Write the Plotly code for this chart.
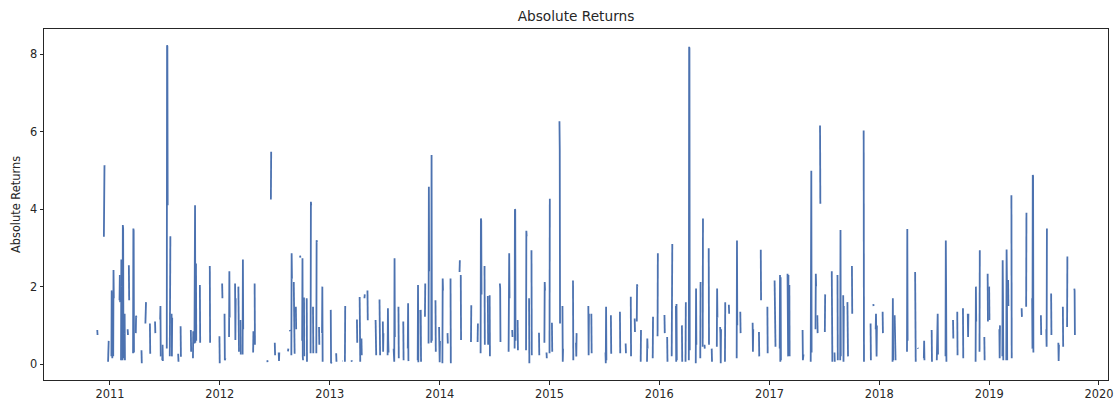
import pandas as pd
import plotly.graph_objects as go

# Start date of each contiguous run of daily observations (gaps between runs are missing data)
segment_starts = [
    "2010-11-20", "2010-12-12", "2010-12-26", "2011-01-06", "2011-01-12", "2011-02-02", "2011-02-07",
    "2011-02-12", "2011-02-18", "2011-03-01", "2011-03-05", "2011-03-19", "2011-03-28", "2011-04-16",
    "2011-04-29", "2011-05-14", "2011-05-31", "2011-06-17", "2011-06-24", "2011-07-09", "2011-07-19",
    "2011-07-25", "2011-08-16", "2011-08-24", "2011-09-27", "2011-10-04", "2011-10-09", "2011-10-14",
    "2011-10-27", "2011-11-29", "2011-12-31", "2012-01-09", "2012-01-17", "2012-02-01", "2012-02-21",
    "2012-03-03", "2012-03-10", "2012-03-17", "2012-04-21", "2012-04-26", "2012-06-07", "2012-06-19",
    "2012-07-02", "2012-07-15", "2012-08-15", "2012-08-21", "2012-08-26", "2012-09-03", "2012-09-10",
    "2012-09-24", "2012-10-01", "2012-10-07", "2012-10-16", "2012-10-29", "2012-11-06", "2012-11-17",
    "2012-11-26", "2012-12-06", "2013-01-04", "2013-01-22", "2013-02-12", "2013-02-20", "2013-03-14",
    "2013-04-01", "2013-04-10", "2013-04-16", "2013-04-26", "2013-05-06", "2013-06-02", "2013-06-15",
    "2013-06-26", "2013-07-12", "2013-08-01", "2013-08-17", "2013-09-02", "2013-09-17", "2013-10-20",
    "2013-10-30", "2013-11-13", "2013-11-25", "2013-12-04", "2013-12-18", "2013-12-30", "2014-01-10",
    "2014-01-27", "2014-02-06", "2014-03-08", "2014-03-12", "2014-04-15", "2014-05-07", "2014-05-17",
    "2014-05-30", "2014-06-10", "2014-06-16", "2014-07-20", "2014-08-18", "2014-08-30", "2014-09-07",
    "2014-09-17", "2014-10-15", "2014-10-25", "2014-11-02", "2014-11-27", "2014-12-15", "2014-12-22",
    "2015-01-01", "2015-01-09", "2015-02-03", "2015-02-13", "2015-03-20", "2015-03-30", "2015-05-10",
    "2015-05-20", "2015-07-06", "2015-07-24", "2015-08-23", "2015-09-11", "2015-09-28", "2015-10-11",
    "2015-10-18", "2015-10-31", "2015-11-21", "2015-12-10", "2015-12-26", "2016-01-18", "2016-01-27",
    "2016-02-11", "2016-02-25", "2016-03-16", "2016-03-28", "2016-04-08", "2016-05-01", "2016-05-16",
    "2016-05-24", "2016-05-30", "2016-06-13", "2016-06-23", "2016-07-10", "2016-07-21", "2016-08-06",
    "2016-08-19", "2016-09-14", "2016-09-26", "2016-11-06", "2016-11-27", "2016-12-03", "2016-12-25",
    "2017-01-18", "2017-02-04", "2017-03-02", "2017-03-08", "2017-04-21", "2017-05-18", "2017-06-03",
    "2017-06-09", "2017-06-18", "2017-07-04", "2017-07-27", "2017-08-05", "2017-08-15", "2017-08-24",
    "2017-09-03", "2017-09-17", "2017-10-02", "2017-11-10", "2017-12-03", "2017-12-12", "2017-12-20",
    "2018-01-12", "2018-02-14", "2018-02-21", "2018-04-03", "2018-04-30", "2018-05-09", "2018-05-29",
    "2018-06-24", "2018-07-11", "2018-08-09", "2018-09-03", "2018-09-17", "2018-10-06", "2018-10-22",
    "2018-11-17", "2018-11-30", "2018-12-16", "2018-12-27", "2019-01-01", "2019-02-04", "2019-02-14",
    "2019-02-27", "2019-03-05", "2019-03-16", "2019-04-19", "2019-05-04", "2019-05-24", "2019-06-22",
    "2019-07-10", "2019-07-26", "2019-08-19", "2019-09-03", "2019-09-17", "2019-10-11",
]

# Absolute return values of each run, one value per day
segment_values = [
    [0.88, 0.75], [3.29, 4.55, 5.13, 5.1], [0.06, 0.35, 0.6], [0.2, 1.9, 1.85, 0.15], [0.2, 2.43, 1.7],
    [1.65, 2.3, 1.6], [0.1, 2.7, 2.0], [0.1, 3.59, 3.5, 0.15], [0.8, 1.3, 0.1], [0.9, 0.75],
    [2.55, 1.65], [0.28, 3.5, 3.45, 0.3], [0.8, 1.25, 1.2], [0.36, 0.02], [1.05, 1.45, 1.6],
    [1.05, 0.27], [1.1, 0.8], [1.15, 1.5, 0.2], [0.1, 0.5, 0.08], [0.4, 8.23, 8.2, 4.1],
    [0.2, 3.29, 3.3], [1.3, 0.2, 1.2], [0.27, 0.06], [0.98, 0.19], [0.88, 0.32], [0.15, 0.85],
    [0.53, 4.05, 4.1, 0.55], [2.6, 0.6], [2.04, 0.55], [2.53, 0.55], [0.72, 0.02], [2.08, 1.7],
    [1.3, 0.1, 1.05, 0.15], [0.7, 2.4, 1.2], [2.08, 0.62, 1.7], [2.0, 1.2, 0.32], [1.14, 0.25],
    [0.25, 2.7, 0.9], [0.3, 0.85], [2.08, 0.5], [0.1, 0.05], [4.25, 5.48], [0.55, 0.23],
    [0.3, 0.08, 0.3], [0.33, 0.4], [0.88, 0.85], [0.23, 2.86, 2.2], [2.12, 0.5, 1.2, 0.27],
    [1.48, 0.9], [2.8, 2.75], [0.6, 2.73, 0.2, 0.1], [1.72, 0.2], [1.7, 0.06], [0.28, 4.19, 4.1],
    [1.48, 0.28], [0.28, 3.2, 3.15], [0.96, 0.5], [0.8, 2.0, 0.06], [1.4, 0.02, 1.3, 0.05],
    [0.28, 0.06], [0.08, 0.08], [0.06, 1.5], [0.1, 0.06], [1.15, 0.55], [1.73, 0.4, 0.06],
    [0.66, 0.23], [1.7, 1.8], [1.9, 1.13], [1.14, 0.5, 0.23], [1.67, 0.8, 0.23], [1.1, 0.32, 0.8],
    [0.23, 1.44, 0.6, 0.3], [0.4, 1.4, 0.06, 2.73, 0.7], [1.48, 0.15], [1.1, 0.1],
    [0.4, 1.57, 0.1, 0.08], [0.1, 2.04, 0.05, 1.4], [1.4, 0.06], [1.22, 2.08], [0.53, 4.58, 2.4],
    [0.55, 5.4, 0.6], [1.65, 0.32], [0.96, 0.3, 0.05, 0.6], [0.02, 2.21, 1.9], [0.8, 0.53],
    [2.21, 0.02], [2.38, 2.68], [2.3, 0.62], [0.57, 1.52], [0.57, 1.05], [0.28, 3.76, 3.7, 1.8],
    [2.53, 0.5], [1.76, 0.5], [1.78, 0.2], [2.08, 1.95, 0.57], [0.32, 2.5, 2.86, 1.7], [0.88, 0.7],
    [0.4, 4.0, 3.98, 0.6], [1.14, 0.36], [0.36, 3.44, 3.3], [1.7, 0.02], [2.94, 0.23], [0.81, 0.23],
    [0.55, 2.12, 1.9], [0.3, 0.15], [0.28, 4.27], [1.07, 0.32], [6.27, 5.55, 1.05], [1.5, 0.06, 0.4],
    [2.16, 0.1], [0.55, 0.2, 0.8], [1.5, 0.23, 1.3], [1.3, 0.28], [0.3, 0.02, 1.48, 0.1],
    [1.26, 0.27], [1.35, 0.28], [0.53, 0.28], [1.74, 0.2], [1.18, 0.83], [1.1, 2.06, 2.0],
    [0.06, 0.88], [0.06, 0.66, 0.4], [0.15, 1.22], [0.72, 2.86], [1.27, 0.8], [0.7, 0.06],
    [0.2, 2.6, 3.1], [1.5, 0.06, 1.55, 0.1], [1.0, 0.06], [0.06, 1.6], [0.1, 8.19, 8.15, 0.36],
    [0.02, 1.95, 0.5], [0.15, 2.12], [0.45, 3.76], [0.5, 0.4], [2.99, 0.5], [0.4, 0.06],
    [0.45, 1.95, 1.2], [0.96, 0.8, 0.02, 0.9], [0.06, 1.6], [1.53, 1.3], [0.15, 3.19, 1.0],
    [1.35, 0.8], [1.07, 0.32, 0.9], [0.83, 0.2], [2.95, 1.65], [1.48, 0.28], [2.16, 0.5, 1.76, 0.45],
    [0.4, 2.3, 0.06, 2.24, 0.1], [2.33, 0.3, 0.2, 2.3], [2.04, 0.2], [0.88, 0.1, 0.5, 0.25],
    [0.06, 2.85, 4.99, 0.3], [0.9, 2.33, 2.0], [1.26, 0.8], [6.16, 4.14], [0.83, 1.8],
    [2.4, 0.5, 0.06], [0.3, 0.06], [2.3, 0.1], [0.1, 3.46, 0.2], [1.78, 0.06, 1.5], [1.6, 0.23, 0.2],
    [2.53, 1.3], [6.03, 0.06], [1.05, 0.1], [1.55, 1.5], [0.9, 1.3, 0.7, 0.2, 1.0], [1.35, 0.8],
    [0.06, 1.7, 0.1], [1.26, 0.1, 1.1, 0.1], [0.32, 3.49, 0.6], [2.38, 0.2, 0.06], [0.42, 0.4],
    [0.15, 0.6, 0.1], [0.88, 0.06], [0.1, 1.0, 0.3, 1.3, 0.25], [0.2, 3.19, 1.9, 0.06], [1.14, 0.66],
    [1.35, 0.23], [1.44, 0.15], [1.3, 0.7, 1.3], [0.06, 2.0, 1.1], [0.32, 2.94], [0.7, 0.1],
    [2.33, 1.1], [2.0, 1.14], [0.9, 0.15, 1.0], [0.2, 2.68, 1.7, 0.1], [0.1, 2.96, 2.2, 0.1],
    [2.17, 1.5], [4.36, 0.15], [1.44, 1.22], [1.48, 3.91], [1.7, 0.4, 4.88, 4.86, 0.3], [1.26, 0.75],
    [0.9, 0.45, 3.5], [1.82, 0.75], [0.55, 0.08, 0.5], [1.48, 0.45], [0.96, 2.78], [1.95, 1.9, 0.75],
]

y_ticks = [0, 2, 4, 6, 8]

# Build a daily series with missing values between the runs
dates, values = [], []
for start, vals in zip(segment_starts, segment_values):
    d0 = pd.Timestamp(start)
    for i, v in enumerate(vals):
        dates.append(d0 + pd.Timedelta(days=i))
        values.append(v)
    dates.append(d0 + pd.Timedelta(days=len(vals)))
    values.append(None)

font = "DejaVu Sans"
fig = go.Figure(
    go.Scatter(
        x=dates, y=values, mode="lines", connectgaps=False,
        line=dict(color="#4c72b0", width=1.8), showlegend=False,
    )
)

axis_common = dict(
    showline=True, linecolor="#262626", linewidth=1, mirror=True,
    ticks="outside", ticklen=3.5, tickwidth=1, tickcolor="#262626",
    showgrid=False, zeroline=False, automargin=False,
    tickfont=dict(family=font, size=11.4, color="#262626"),
)

fig.update_layout(
    width=1115, height=405,
    margin=dict(l=44, r=7, t=29, b=25, autoexpand=False),
    paper_bgcolor="white", plot_bgcolor="white",
    title=dict(text="Absolute Returns", x=0.5, xref="paper", xanchor="center",
               y=1 - 16 / 405, yref="container", yanchor="middle", automargin=False,
               font=dict(family=font, size=13.7, color="#262626")),
    xaxis=dict(range=["2010-05-27", "2020-01-31"], type="date", dtick="M12",
               tick0="2011-01-01", tickformat="%Y", **axis_common),
    yaxis=dict(range=[-0.41, 8.65], tickvals=y_ticks,
               title=dict(text="Absolute Returns", standoff=6,
                          font=dict(family=font, size=11.4, color="#262626")),
               **axis_common),
)

fig.write_html(
    "out.html",
    config={"displayModeBar": False},
    post_script="document.body.style.margin='0';document.body.style.overflow='hidden';",
)
